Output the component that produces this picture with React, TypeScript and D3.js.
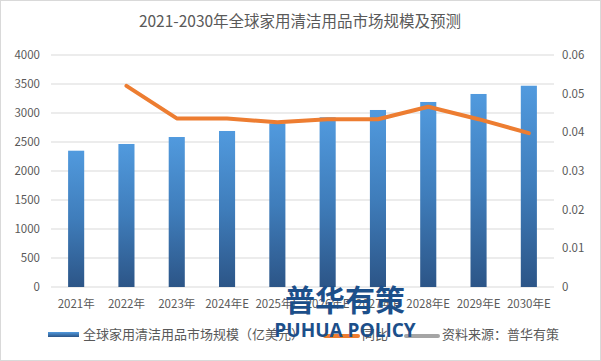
import React from "react";
import * as d3 from "d3";

const categories = ["2021年", "2022年", "2023年", "2024年E", "2025年E", "2026年E", "2027年E", "2028年E", "2029年E", "2030年E"];
const marketSize = [2350, 2466, 2586, 2690, 2820, 2926, 3052, 3190, 3328, 3470];
const yoyCategories = ["2022年", "2023年", "2024年E", "2025年E", "2026年E", "2027年E", "2028年E", "2029年E", "2030年E"];
const yoyValues = [0.052, 0.0436, 0.0436, 0.0426, 0.0434, 0.0434, 0.0466, 0.0434, 0.0398];
const leftTicks = [0, 500, 1000, 1500, 2000, 2500, 3000, 3500, 4000];
const rightTicks = [0, 0.01, 0.02, 0.03, 0.04, 0.05, 0.06];
const title = "2021-2030年全球家用清洁用品市场规模及预测";
const legendLabels = ["全球家用清洁用品市场规模（亿美元）", "同比", "资料来源：普华有策"];

const W = 601;
const H = 361;
const FONT = "'Noto Sans CJK SC', 'Open Sans', sans-serif";

export default function App() {
  const x = d3.scaleBand<string>().domain(categories).range([51, 554]).paddingInner(0.68).paddingOuter(0.34);
  const yL = d3.scaleLinear().domain([0, 4000]).range([287, 55]);
  const yR = d3.scaleLinear().domain([0, 0.06]).range([287, 55]);
  const cx = (c: string) => (x(c) ?? 0) + x.bandwidth() / 2;
  const line = d3
    .line<number>()
    .x((_, i) => cx(yoyCategories[i]))
    .y((d) => yR(d));

  return (
    <div style={{ position: "fixed", left: 0, top: 0 }}>
      <svg width={W} height={H} style={{ display: "block", fontFamily: FONT }}>
        <defs>
          <linearGradient id="barGrad" x1="0" y1="0" x2="0" y2="1">
            <stop offset="0" stopColor="#519ade" />
            <stop offset="0.5" stopColor="#3f7dbb" />
            <stop offset="1" stopColor="#2c5587" />
          </linearGradient>
          <linearGradient id="legGrad" x1="0" y1="0" x2="0" y2="1">
            <stop offset="0" stopColor="#519ade" />
            <stop offset="1" stopColor="#2c5587" />
          </linearGradient>
        </defs>
        <rect x={0.5} y={0.5} width={W - 1} height={H - 1} fill="#fff" stroke="#d9d9d9" />
        <text x={300} y={27} textAnchor="middle" fontSize={15.5} fill="#595959">
          {title}
        </text>
        {leftTicks.map((t) => (
          <g key={"l" + t}>
            <line x1={51} x2={554} y1={yL(t)} y2={yL(t)} stroke="#d9d9d9" strokeWidth={1} />
            <text x={40} y={yL(t) + 4} textAnchor="end" fontSize={11.5} fill="#595959">
              {t}
            </text>
          </g>
        ))}
        {rightTicks.map((t) => (
          <text key={"r" + t} x={562} y={yR(t) + 4} textAnchor="start" fontSize={11.5} fill="#595959">
            {t}
          </text>
        ))}
        {categories.map((c, i) => (
          <rect
            key={c}
            x={x(c)}
            y={yL(marketSize[i])}
            width={x.bandwidth()}
            height={yL(0) - yL(marketSize[i])}
            fill="url(#barGrad)"
          />
        ))}
        <path d={line(yoyValues) ?? ""} fill="none" stroke="#ed7d31" strokeWidth={4} strokeLinejoin="round" strokeLinecap="round" />
        {categories.map((c) => (
          <text key={"x" + c} x={cx(c)} y={308} textAnchor="middle" fontSize={11.5} fill="#595959">
            {c}
          </text>
        ))}
        {/* legend */}
        <rect x={48} y={332} width={31} height={5} fill="url(#legGrad)" />
        <text x={83} y={339} fontSize={13} fill="#595959">
          {legendLabels[0]}
        </text>
        <line x1={325} x2={358} y1={336} y2={336} stroke="#ed7d31" strokeWidth={4} strokeLinecap="round" />
        <text x={362} y={339} fontSize={13} fill="#595959">
          {legendLabels[1]}
        </text>
        <line x1={406} x2={438} y1={336} y2={336} stroke="#a5a5a5" strokeWidth={4} strokeLinecap="round" />
        <text x={442} y={339} fontSize={13} fill="#595959">
          {legendLabels[2]}
        </text>
        {/* watermark */}
        <text x={345} y={311} textAnchor="middle" fontSize={30} fontWeight="bold" fill="#1c4f8a">
          普华有策
        </text>
        <text x={345} y={337} textAnchor="middle" fontSize={19} fontWeight="bold" fill="#1c4f8a" fontFamily="'Open Sans', sans-serif">
          PUHUA POLICY
        </text>
      </svg>
    </div>
  );
}
